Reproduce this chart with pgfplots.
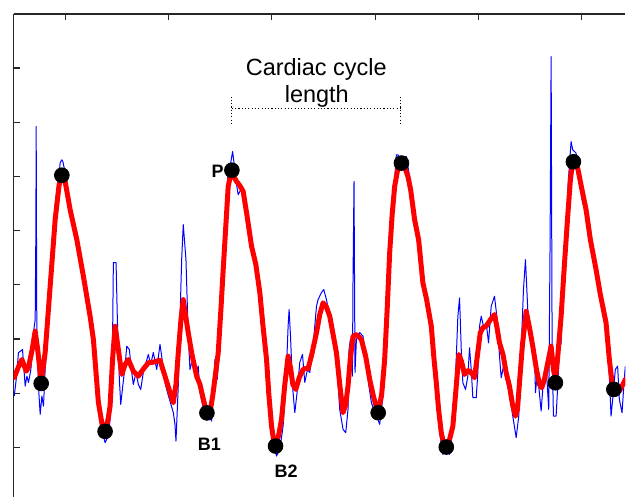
\documentclass[border=0pt]{standalone}
\usepackage{pgfplots}
\pgfplotsset{compat=1.18}
\usepackage{fontspec}
\setmainfont{Liberation Sans}

% pixel coordinates of the 626x498 picture, 1px = 0.5pt, y measured from the top
\pgfplotstableread{
x y
14 378
18 368
21.7 360
26 371.7
28.3 368
32 350
35 331.7
37.5 350
41 383
45 353
50 286.7
55 220
59 185
61.7 175
65 181.7
70 210
76.7 240
83.3 276.7
90 316.7
93.3 340
98.3 403
102 425
105 432
108 420
110 406.7
112.5 360
115 326.7
118.3 350
121.7 375
125 365
128.3 360
133.3 371.7
138.3 376.7
143 370
148.3 363.3
153.3 362.7
160 360.7
165 376.7
170 393
173.3 403.3
176 385
178.3 353.3
181 320
183.3 300
185.5 315
188.3 333.3
192 355
196.7 376.7
200 385
203 398
206.7 413.3
210 413.3
213 395
218.3 353.3
221 310
223.3 270
226 225
228.3 186.7
231.7 170.5
234 177
236.7 181.7
240 186
243.3 191.7
247 215
251.7 246.7
256 265
260 293.3
263 325
266.7 360
269 395
271.7 426.7
274 442
276 446.5
279 435
281.7 420
285 385
288.3 356.7
291 370
293 385
296 390
299.5 378
303.3 370
306 369
308.3 369.3
312 355
316.7 333.3
320 315
323.3 303.3
326.5 307
330 316.7
333 333
336.7 353.3
340 385
343.3 413.3
346 405
348.3 386.7
350.5 360
353.3 336.7
357 335
361.7 340
366 357
370 380
374 398
378.5 413.3
382 395
385 360
387.5 310
390 253.3
392.5 215
395 186.7
398 170
401.7 163.3
405 167
408.3 176.7
411 190
415 220
419 240
423.3 283.3
427 300
431.7 326.7
434 355
436.7 383.3
439 410
441.7 433.3
444 444
446.7 447.5
450 440
453.3 426.7
456 395
459.3 355
462 362
465 375
468 371
470 371.7
473 375
475 378.3
478 355
480.7 333.3
483.5 328
486.7 326.7
491 320
495 315
497.5 328
500 343.3
503.5 355
506.7 373.3
510 386.7
513 405
516 416.7
518 410
520 383.3
523 345
526.7 311.7
530 328
533.3 346.7
537 370
540 385
542.3 388.3
545 380
548 365
551.7 346.7
554 370
556 380
558.5 355
561.7 316.7
565 265
568.3 216.7
571 180
573.3 161.7
576 163
578.3 168.3
582 187
586.7 210
591 240
596.7 270
601 295
606.7 323.3
610 360
613.3 388.3
617 392
620 391.7
623 386
626 380
}\smoothed

\pgfplotstableread{
x y
14 396.7
16 380
18.3 353
20 352
22.3 350
25 386.7
26.7 376.7
28.3 383
30.7 370
33.3 333
35 320
35.7 230
36 126.7
36.5 300
36.7 333
38.3 386.7
40 415
41.7 396.7
43.3 406.7
45 370
47.5 330
50 284
53 240
55 205
56.7 190
58.5 180
60 163
61.7 160
62.7 161.7
64 168
65 170
67 190
70 208
74 232
77 243
80 258
84 280
87 300
90 320
93 338
96 375
98.3 400
100 416.7
102 432
105 443.3
108.3 436.7
110 420
111.7 393
112.5 340
113.3 263
116 263
117.3 320
119.3 380
120.7 405
122.7 386.7
125 366.7
126.7 346.7
129.3 350
131.7 373
133.3 385
136 373
138.3 385
140.7 390
143.3 373
145.5 365
148.3 355
150.7 365
153.3 353
156.7 370
160 345
161.7 356.7
165 383
167.5 393
170 401.7
173.3 413
175 425
176 441.7
178.3 386.7
180 320
181.7 260
183.3 225
186 260
188.3 336.7
190 370
193.3 356.7
196 373
198.3 366.7
200 393
202.5 405
205 420
207 418
209.3 416.7
211.7 421.7
213.3 395
215 360
217.3 380
219.3 353
221 312
223.3 268
226 222
228.3 166.7
230.5 165
232.7 151.7
235 170
236.7 185
238.3 195
241 190
243.3 188
245 195
248 218
252 247
256 266
260 292
263 326
266.7 361
269 396
271.7 420
274 445
276.7 456.7
280 450
283.3 426.7
286 386.7
288.3 326.7
289.3 310
290.7 336.7
292.7 386.7
295 413.3
297.3 393
300 363
302.7 355
305 383
307.7 370
310 373
313.3 346.7
316.7 306.7
318.3 300
321.7 293
324 290
326.7 300
329 312
331.7 326.7
334 340
336.7 360
340 410
343.3 430
346 433.3
348.3 410
349.3 350
350.7 340
352.7 376.7
353.3 280
354.3 181.7
355.3 373
356.7 340
360 333
363.3 336.7
366.7 360
369 385
371.7 403
375 413
377.5 418
380 425
383.3 396.7
386.7 353
388.5 305
390.5 250
393 210
395 180
396.7 155
398.3 155
401 162
403.5 158
406.7 156.7
408.5 168
410 176.7
412 192
415 218
419 242
423 282
427 300
431.5 328
434 355
436.5 384
438.5 410
440 433
443.3 455
446.7 450
450 455
453.3 426.7
456 376.7
458.3 316.7
460 298.3
461.7 350
463.3 383.3
466 390
468.3 376.7
470 348.3
471.7 370
473.3 398.3
476.7 398.3
478.3 373.3
480 326.7
481.7 316.7
484 326.7
486.7 323.3
489 343.3
491.7 306.7
495 296.7
497.3 316.7
500 356.7
501.7 378.3
504 366.7
506.7 380
510 395
513.3 416.7
516.7 438.3
519.3 416.7
521.7 350
524 290
526 260
528.3 310
531.7 333.3
535 350
536 393.3
537.3 380
539.3 386.7
541.7 411.7
543.3 390
546.7 366.7
549.3 410
550.7 236.7
551.7 56.7
552.7 350
554 416.7
556.7 416.7
558.3 386.7
560 350
561.7 343.3
564 280
566.5 230
569 180
571.7 141.7
573.3 150
576.7 153.3
580 183.3
583.3 203.3
587 212
591 240
596.7 270
601 296
606.7 316.7
610 376.7
611.7 416.7
614 393.3
616 370
618.3 366.7
620 400
622.7 413.3
624.7 383.3
626 366.7
}\raw

\pgfplotstableread{
x y
41 384
61.7 175.5
105 432
207 413.5
232 170.5
275.7 446.7
378.5 413.3
401.8 163.3
446.7 447.7
556 383.3
574 162
614.5 390
}\beats

\begin{document}
\begin{tikzpicture}
\begin{axis}[
    at={(0pt,0pt)}, anchor=south west,
    scale only axis,
    width=306.25pt, height=242pt,
    xmin=13.5, xmax=626,
    ymin=14, ymax=498, y dir=reverse,
    axis x line*=top, axis y line*=left,
    axis line style={black!85, line width=0.7pt, -},
    tick style={black!85, line width=0.6pt},
    tick align=inside,
    major tick length=3.25pt,
    xtick={65,168.5,272,375.5,479,582.5},
    ytick={68,122.3,176.6,230.9,285.2,339.5,393.8,448.1},
    xticklabels={}, yticklabels={},
    clip=true,
]
\addplot[blue, line width=0.5pt, line join=round] table {\raw};
\addplot[red, line width=2.5pt, line join=round, line cap=round] table {\smoothed};
\addplot[only marks, mark=*, mark size=3.7pt, black] table {\beats};

\draw[black, line width=0.55pt, dash pattern=on 0.55pt off 1.1pt]
    (axis cs:232,108.3) -- (axis cs:401.3,108.3)
    (axis cs:231.7,96.7) -- (axis cs:231.7,123.3)
    (axis cs:401.3,96.7) -- (axis cs:401.3,123.3);
\node[anchor=base, inner sep=0pt, font=\fontsize{11.75pt}{13.5pt}\selectfont] at (axis cs:316.5,76) {Cardiac cycle};
\node[anchor=base, inner sep=0pt, font=\fontsize{9pt}{10pt}\selectfont\bfseries] at (axis cs:217.7,177.3) {P};
\node[anchor=base, inner sep=0pt, font=\fontsize{11.75pt}{13.5pt}\selectfont] at (axis cs:317,103) {length};
\node[anchor=base, inner sep=0pt, font=\fontsize{9pt}{10pt}\selectfont\bfseries] at (axis cs:209.5,450.7) {B1};
\node[anchor=base, inner sep=0pt, font=\fontsize{9pt}{10pt}\selectfont\bfseries] at (axis cs:286.3,478.3) {B2};
\end{axis}
\path (-6.75pt,0pt) rectangle (306.25pt,249pt);
\end{tikzpicture}
\end{document}
